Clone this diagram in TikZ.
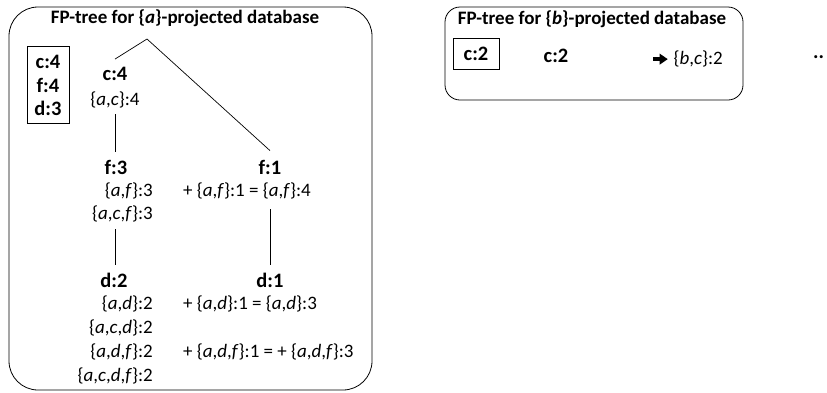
\documentclass[tikz,border=0pt]{standalone}
\usepackage{fontspec}
\setmainfont{Carlito}
\newcommand{\heavyarrow}{\tikz[baseline=-0.6ex,x=1pt,y=1pt]{\fill (0,-1.8) rectangle (9,1.8); \fill (7,-5.5) -- (15,0) -- (7,5.5) -- cycle;}}
\begin{document}
\begin{tikzpicture}[x=1pt,y=-1pt,
  ttl/.style={font=\fontsize{19}{22}\selectfont\bfseries, inner sep=0pt},
  lbl/.style={font=\fontsize{20.5}{24}\selectfont\bfseries, inner sep=0pt},
  itm/.style={font=\fontsize{19}{22}\selectfont, inner sep=0pt},
  frame/.style={draw, line width=0.8pt},
  legend/.style={draw, line width=0.8pt, inner sep=0pt},
  tree/.style={line width=0.7pt}]
\useasboundingbox (0,0) rectangle (827,392);
% frames
\draw[frame, rounded corners=29pt] (9,7) rectangle (372,390);
\draw[frame, rounded corners=15pt] (445,7) rectangle (743,100);
% titles
\node[ttl] (ta) at (185,18) {FP-tree for \{\textit{a}\}-projected database};
\node[ttl] (tb) at (592,19) {FP-tree for \{\textit{b}\}-projected database};
% legend a
\node[legend, minimum width=42pt, minimum height=77pt] (lega) at (48,84.5) {};
\node[lbl] (l1) at (48,62) {c:4};
\node[lbl] (l2) at (48,85) {f:4};
\node[lbl] (l3) at (48,108) {d:3};
% tree a
\coordinate (root) at (147,39);
\node[lbl] (c4) at (115,74) {c:4};
\node[itm] (ac4) at (115,100) {\{\textit{a},\textit{c}\}:4};
\node[lbl] (f3) at (116,167) {f:3};
\node[itm, anchor=east] (af3) at (153,191) {\{\textit{a},\textit{f}\}:3};
\node[itm, anchor=east] (acf3) at (153,214) {\{\textit{a},\textit{c},\textit{f}\}:3};
\node[lbl] (d2) at (114,280) {d:2};
\node[itm, anchor=east] (ad2) at (153,304) {\{\textit{a},\textit{d}\}:2};
\node[itm, anchor=east] (acd2) at (153,328) {\{\textit{a},\textit{c},\textit{d}\}:2};
\node[itm, anchor=east] (adf2) at (153,352) {\{\textit{a},\textit{d},\textit{f}\}:2};
\node[itm, anchor=east] (acdf2) at (153,376) {\{\textit{a},\textit{c},\textit{d},\textit{f}\}:2};
\node[lbl] (f1) at (270,167) {f:1};
\node[itm, anchor=west] (af1) at (183,191) {+ \{\textit{a},\textit{f}\}:1 = \{\textit{a},\textit{f}\}:4};
\node[lbl] (d1) at (270,280) {d:1};
\node[itm, anchor=west] (ad1) at (183,304) {+ \{\textit{a},\textit{d}\}:1 = \{\textit{a},\textit{d}\}:3};
\node[itm, anchor=west] (adf1) at (183,352) {+ \{\textit{a},\textit{d},\textit{f}\}:1 = + \{\textit{a},\textit{d},\textit{f}\}:3};
\draw[tree] (root) -- ([yshift=8pt]c4.north);
\draw[tree] (root) -- ([yshift=9pt]f1.north);
\draw[tree] ([yshift=-6pt]ac4.south -| c4) -- ([yshift=8pt]f3.north -| c4);
\draw[tree] ([yshift=-7pt]acf3.south -| c4) -- ([yshift=8pt]d2.north -| c4);
\draw[tree] ([yshift=-10pt]af1.south -| f1) -- ([yshift=8pt]d1.north);
% b
\node[legend, minimum width=46pt, minimum height=31pt] (legb) at (476,53.5) {};
\node[lbl] (c2a) at (476,54) {c:2};
\node[lbl] (c2b) at (556,56) {c:2};
\node[itm, anchor=east] (bc2) at (723,59) {\heavyarrow\kern6pt\{\textit{b},\textit{c}\}:2};
\node[lbl, anchor=west] (dots) at (813,57) {..};
\end{tikzpicture}
\end{document}
